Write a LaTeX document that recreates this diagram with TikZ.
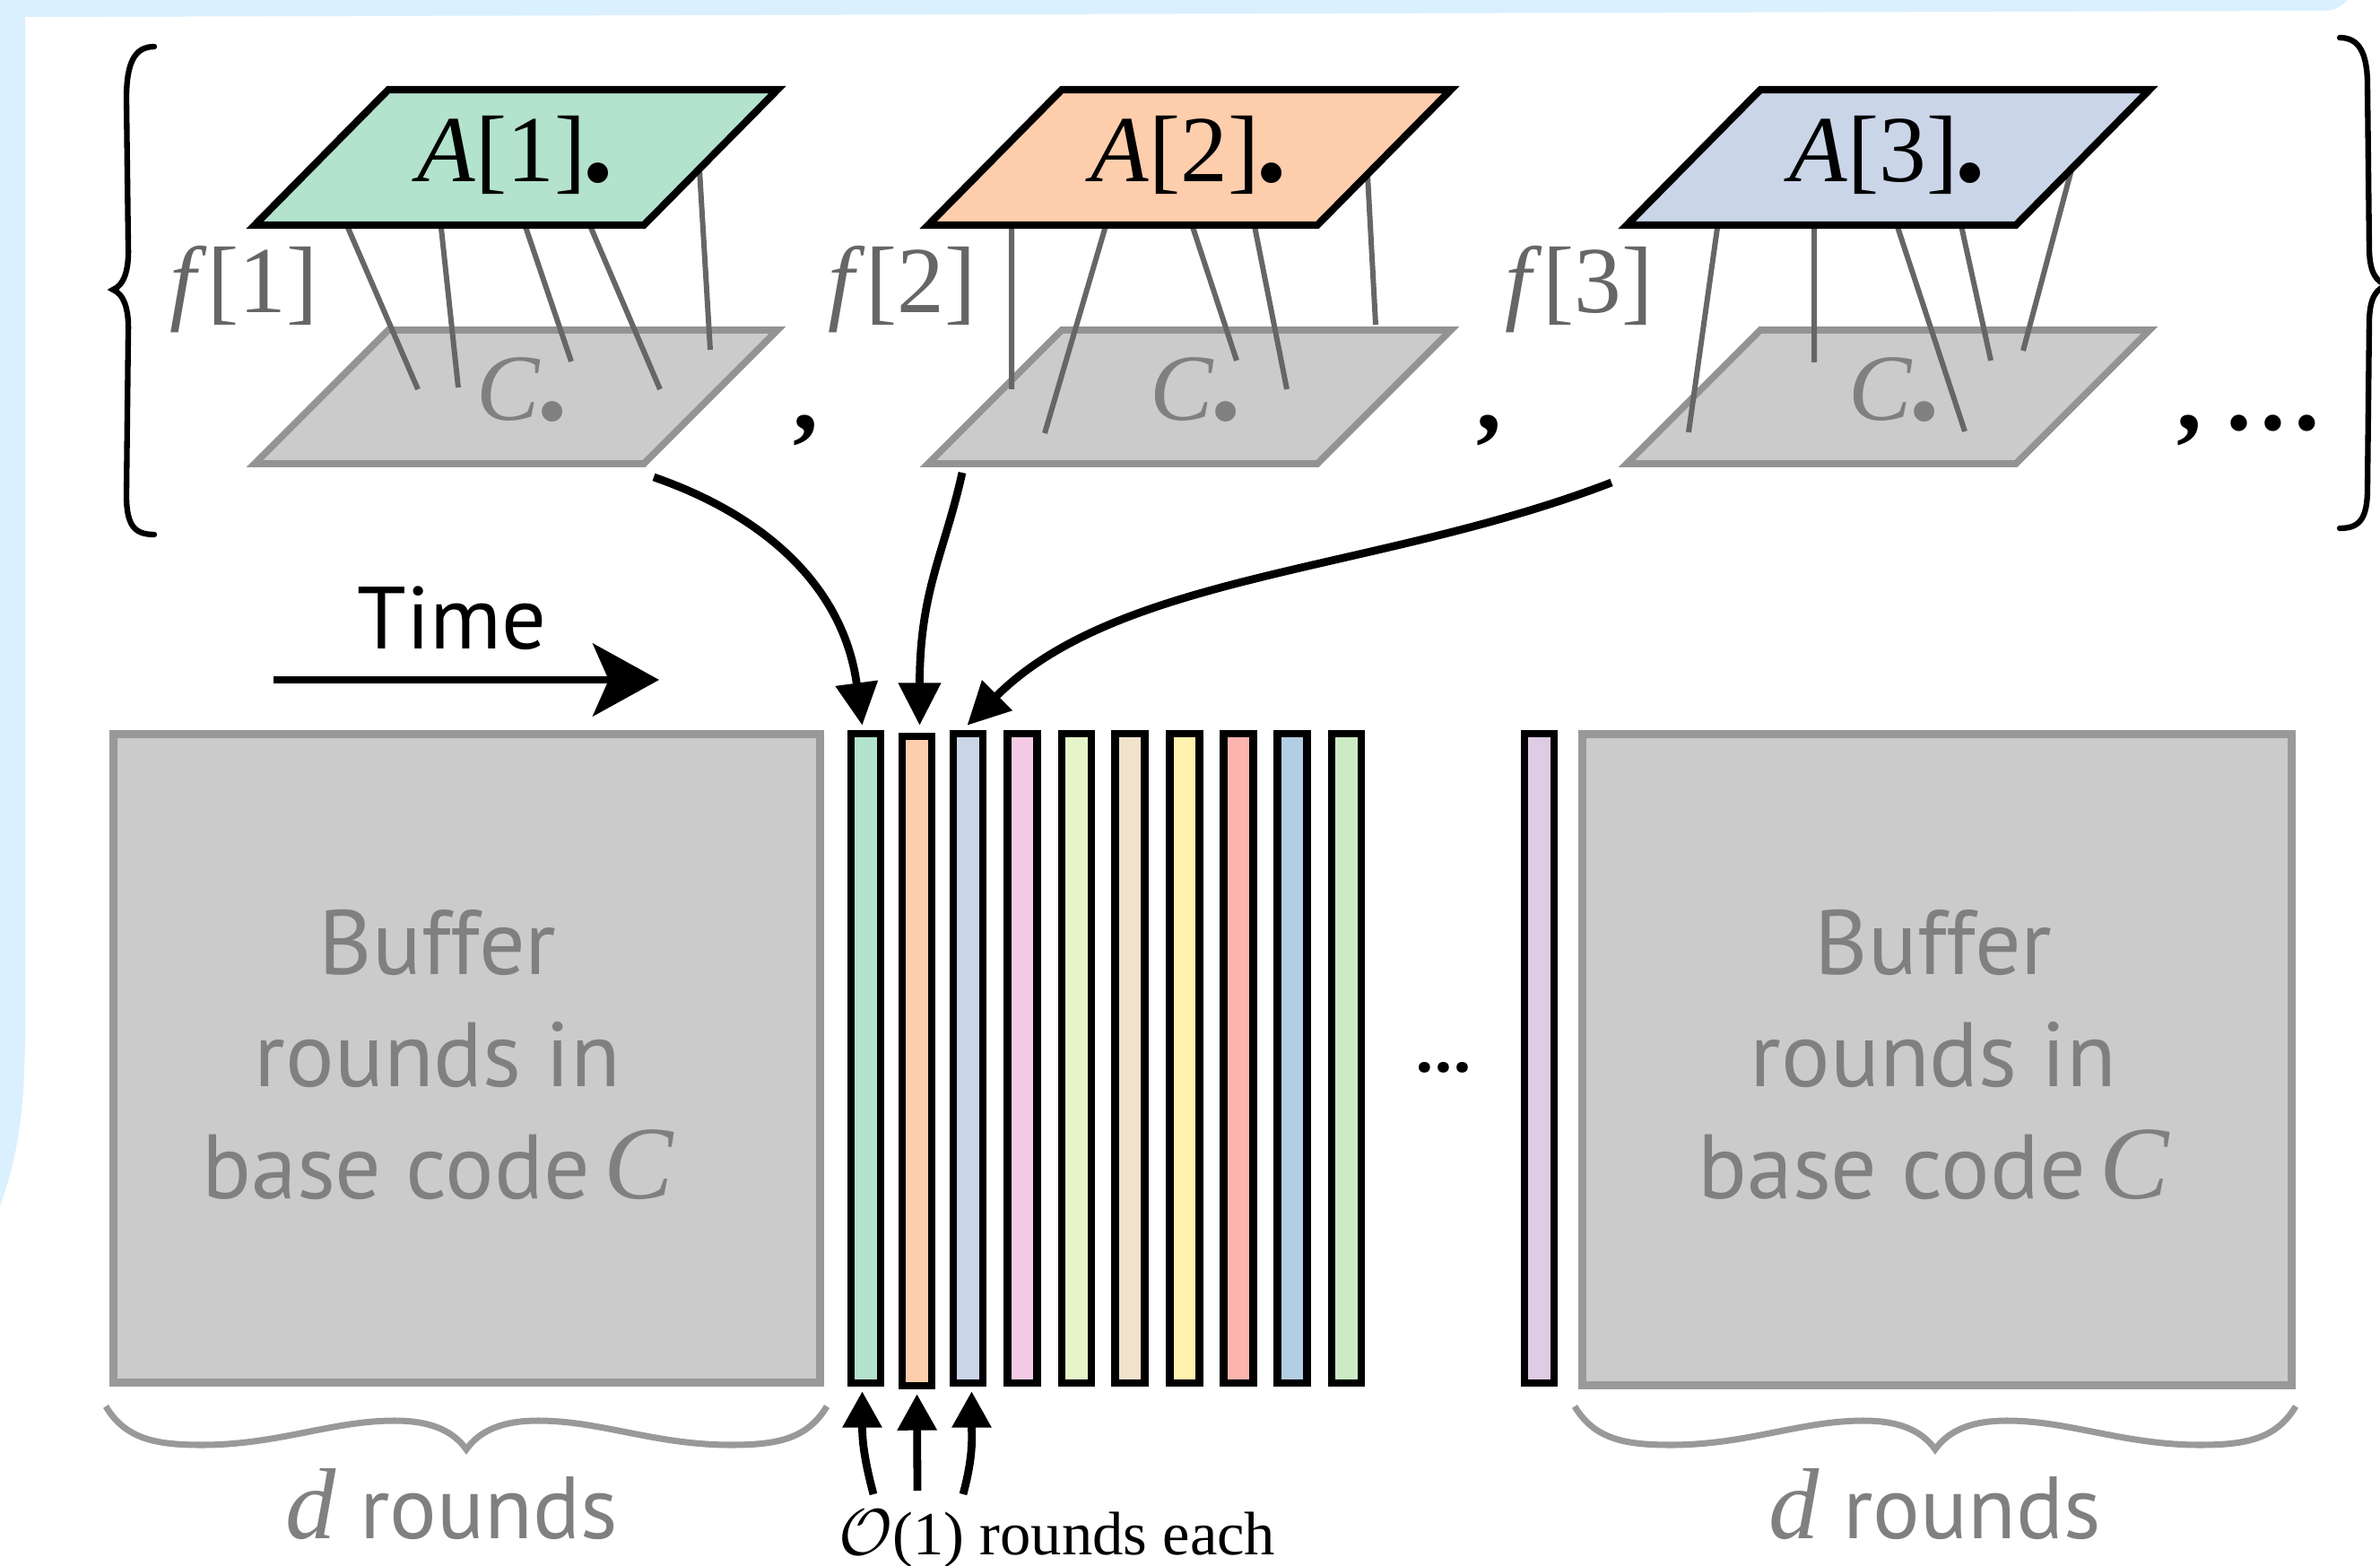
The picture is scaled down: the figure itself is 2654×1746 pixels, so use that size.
\documentclass[tikz,border=0pt]{standalone}
\usepackage{fontspec}
\setmainfont{Liberation Serif}
\newfontfamily\sansfam{PT Sans}
\usetikzlibrary{arrows.meta,calc}
\definecolor{bgblue}{HTML}{DAF0FF}
\definecolor{pA}{HTML}{B3E2CD}
\definecolor{pB}{HTML}{FDCDAC}
\definecolor{pC}{HTML}{CBD5E8}
\definecolor{pD}{HTML}{F4CAE4}
\definecolor{pE}{HTML}{E6F5C9}
\definecolor{pF}{HTML}{F1E2CC}
\definecolor{pG}{HTML}{FFF2AE}
\definecolor{pH}{HTML}{FBB4AE}
\definecolor{pI}{HTML}{B3CDE3}
\definecolor{pJ}{HTML}{CCEBC5}
\definecolor{pK}{HTML}{DECBE4}
\definecolor{cfill}{HTML}{CBCBCB}
\definecolor{cedge}{HTML}{939393}
\definecolor{boxedge}{HTML}{999999}
\definecolor{fgray}{HTML}{666666}
\definecolor{tgray}{HTML}{808080}
\newcommand\bigdot{{\kern-0.04em\bfseries\fontsize{40}{40}\selectfont.}}
\begin{document}
\begin{tikzpicture}[x=0.01cm,y=-0.01cm,
  aplane/.style={draw=black,line width=2.3pt,line join=miter},
  cplane/.style={draw=cedge,fill=cfill,line width=2.2pt,line join=miter},
  fmap/.style={draw=fgray,line width=1.7pt},
  atext/.style={anchor=base west,inner sep=0pt,font=\fontsize{30}{30}\selectfont},
  ctext/.style={atext,text=tgray},
  ftext/.style={atext,text=fgray},
  comma/.style={anchor=base west,inner sep=0pt,font=\bfseries\fontsize{32}{32}\selectfont},
  bar/.style={draw=black,line width=2.3pt,minimum width=0.33cm,minimum height=7.24cm,inner sep=0pt},
  gbox/.style={draw=boxedge,fill=cfill,line width=2.5pt,inner sep=0pt},
  boxtext/.style={align=center,inner sep=0pt,text=tgray,font=\sansfam\fontsize{29}{35.6}\selectfont},
  feed/.style={line width=2.5pt,-{Triangle[length=13.5pt,width=13pt]}},
  feedup/.style={line width=2.5pt,-{Triangle[length=11.5pt,width=12pt]}},
  timearrow/.style={line width=2.4pt,-{Stealth[length=21pt,width=23pt,inset=5pt]}},
  bracepath/.style={line width=1.8pt,line cap=round},
  ubrace/.style={draw=boxedge,line width=2pt}]
\useasboundingbox (0,0) rectangle (2654,1746);
\clip (0,0) rectangle (2654,1746);
% background
\fill[bgblue] (0,0) -- (2618,0) .. controls (2610,8) and (2602,12) .. (2592,12) -- (28,19) -- (28,1160) .. controls (27,1260) and (15,1300) .. (0,1345) -- cycle;

% ---------- panel 1
\draw[cplane] (284,517) -- (718,517) -- (867,368) -- (433,368) -- cycle;
\node[ctext] (c1) at (531,469) {\textit{C}\bigdot};
\draw[fmap] (385,247) -- (466,434) (491,245) -- (511,432) (584,247) -- (637,403) (656,247) -- (736,434) (780,189) -- (792,390);
\draw[aplane,fill=pA] (284,251) -- (718,251) -- (867,100) -- (433,100) -- cycle;
\node[atext] (a1) at (465,203) {\textit{A}[1]\bigdot};
\node[ftext] (f1) at (189,349) {\textit{f}[1]};
\node[comma] (k1) at (884,480) {,};

% ---------- panel 2
\draw[cplane] (1035,517) -- (1469,517) -- (1618,368) -- (1184,368) -- cycle;
\node[ctext] (c2) at (1282,469) {\textit{C}\bigdot};
\draw[fmap] (1128,247) -- (1128,434) (1235,245) -- (1165,483) (1328,247) -- (1379,402) (1398,247) -- (1435,434) (1525,195) -- (1534,362);
\draw[aplane,fill=pB] (1035,251) -- (1469,251) -- (1618,100) -- (1184,100) -- cycle;
\node[atext] (a2) at (1216,203) {\textit{A}[2]\bigdot};
\node[ftext] (f2) at (923,349) {\textit{f}[2]};
\node[comma] (k2) at (1646,480) {,};

% ---------- panel 3
\draw[cplane] (1814,517) -- (2248,517) -- (2397,368) -- (1963,368) -- cycle;
\node[ctext] (c3) at (2061,469) {\textit{C}\bigdot};
\draw[fmap] (1916,247) -- (1883,482) (2023,247) -- (2023,404) (2114,247) -- (2191,481) (2186,247) -- (2220,402) (2310,189) -- (2256,391);
\draw[aplane,fill=pC] (1814,251) -- (2248,251) -- (2397,100) -- (1963,100) -- cycle;
\node[atext] (a3) at (1995,203) {\textit{A}[3]\bigdot};
\node[ftext] (f3) at (1678,349) {\textit{f}[3]};
\node[comma] (k3) at (2427,480) {,\hspace{0.2em}…};

% ---------- set braces
\draw[bracepath] (172,52) .. controls (150,52) and (141,70) .. (141,110) -- (143,275) .. controls (144,302) and (138,318) .. (126,323) .. controls (138,328) and (144,344) .. (143,371) -- (141,552) .. controls (141,586) and (150,596) .. (172,596);
\draw[bracepath] (2609,42) .. controls (2630,42) and (2640,58) .. (2640,95) -- (2642,280) .. controls (2643,305) and (2650,314) .. (2662,318) .. controls (2650,322) and (2643,331) .. (2642,356) -- (2640,545) .. controls (2640,580) and (2630,589) .. (2609,589);

% ---------- time
\node[anchor=base west,inner sep=0pt,font=\sansfam\fontsize{28}{28}\selectfont] (time) at (398,724) {Time};
\coordinate (t0) at (305,758);
\coordinate (t1) at (735,758);
\draw[timearrow] (t0) -- (t1);

% ---------- buffer boxes
\node[gbox,minimum width=7.88cm,minimum height=7.23cm] (lbox) at (520.5,1180) {};
\node[gbox,minimum width=7.91cm,minimum height=7.26cm] (rbox) at (2160,1181.5) {};
\node[boxtext] (ltext) at (488,1176) {Buffer\\rounds in\\base code\hspace{0.15em}{\rmfamily\itshape\fontsize{33}{33}\selectfont C}};
\node[boxtext] (rtext) at (2156,1176) {Buffer\\rounds in\\base code\hspace{0.15em}{\rmfamily\itshape\fontsize{33}{33}\selectfont C}};

% ---------- bars
\node[bar,fill=pA] (b1) at (965.5,1180) {};
\node[bar,fill=pB] (b2) at (1022.5,1183) {};
\node[bar,fill=pC] (b3) at (1079.5,1180) {};
\node[bar,fill=pD] (b4) at (1140,1180) {};
\node[bar,fill=pE] (b5) at (1200.5,1180) {};
\node[bar,fill=pF] (b6) at (1260,1180) {};
\node[bar,fill=pG] (b7) at (1321,1180) {};
\node[bar,fill=pH] (b8) at (1381,1180) {};
\node[bar,fill=pI] (b9) at (1441,1180) {};
\node[bar,fill=pJ] (b10) at (1501.5,1180) {};
\node[bar,fill=pK] (b11) at (1716.5,1180) {};
\node[inner sep=0pt,font=\sansfam\bfseries\fontsize{22}{22}\selectfont] (dots) at (1610,1190) {…};

% ---------- feeding arrows
\coordinate (s1) at (729,532);
\coordinate (s2) at (1073,527);
\coordinate (s3) at (1797,538);
\draw[feed] (s1) .. controls +(130,45) and +(-20,-150) .. ($(b1.north)+(-4,-5)$);
\draw[feed] (s2) .. controls +(-20,90) and +(0,-150) .. ($(b2.north)+(3,-8)$);
\draw[feed] (s3) .. controls +(-260,100) and +(170,-170) .. ($(b3.north)+(-1,-5)$);

% ---------- bottom arrows
\coordinate (u1) at (974,1666);
\coordinate (u2) at (1023,1662);
\coordinate (u3) at (1074,1666);
\draw[feedup] (u1) .. controls +(-12,-45) and +(0,50) .. ($(b1.south)+(-4,5)$);
\draw[feedup] (u2) -- ($(b2.south)+(0,5)$);
\draw[feedup] (u3) .. controls +(12,-45) and +(0,50) .. ($(b3.south)+(4,5)$);
\node[anchor=base,inner sep=0pt,font=\fontsize{19.5}{19.5}\selectfont] (each) at (1179,1733) {$\mathcal{O}$(1) rounds each};

% ---------- under braces
\draw[ubrace] (118,1568) .. controls (140,1605) and (175,1611) .. (225,1611) .. controls (310,1611) and (370,1584) .. (440,1584) .. controls (480,1584) and (505,1595) .. (520,1616) .. controls (535,1595) and (560,1584) .. (600,1584) .. controls (670,1584) and (730,1611) .. (815,1611) .. controls (865,1611) and (900,1605) .. (922,1568);
\begin{scope}[xshift=16.37cm]
\draw[ubrace] (118,1568) .. controls (140,1605) and (175,1611) .. (225,1611) .. controls (310,1611) and (370,1584) .. (440,1584) .. controls (480,1584) and (505,1595) .. (520,1616) .. controls (535,1595) and (560,1584) .. (600,1584) .. controls (670,1584) and (730,1611) .. (815,1611) .. controls (865,1611) and (900,1605) .. (922,1568);
\end{scope}
\node[anchor=base,inner sep=0pt,text=tgray,font=\sansfam\fontsize{28}{28}\selectfont] (ld) at (504,1715) {{\rmfamily\itshape\fontsize{32}{32}\selectfont d} rounds};
\node[anchor=base,inner sep=0pt,text=tgray,font=\sansfam\fontsize{28}{28}\selectfont] (rd) at (2158,1715) {{\rmfamily\itshape\fontsize{32}{32}\selectfont d} rounds};
\end{tikzpicture}
\end{document}
